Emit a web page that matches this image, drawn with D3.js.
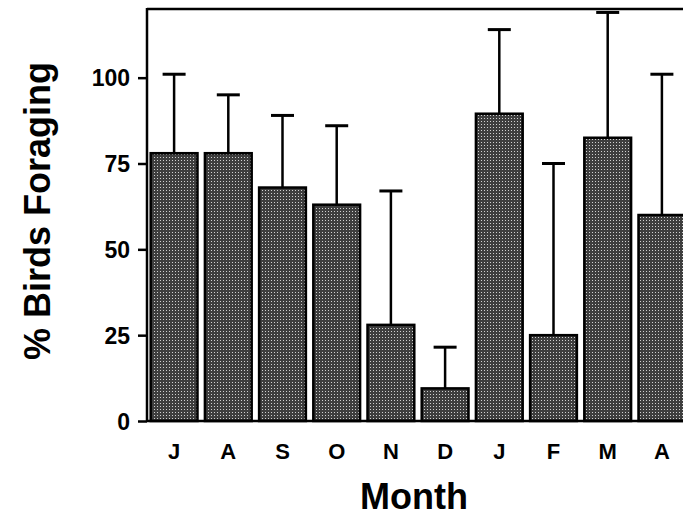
<!DOCTYPE html>
<html>
<head>
<meta charset="utf-8">
<script src="https://cdn.jsdelivr.net/npm/d3@7"></script>
<style>
  html, body { margin: 0; padding: 0; background: #fff; }
  svg { display: block; }
  text { font-family: "Liberation Sans", Arial, Helvetica, sans-serif; font-weight: bold; fill: #000; }
</style>
</head>
<body>
<svg id="chart" width="683" height="516"></svg>
<script>
// ---- data ----
const months = ["J", "A", "S", "O", "N", "D", "J", "F", "M", "A"];
const monthKeys = ["Jul", "Aug", "Sep", "Oct", "Nov", "Dec", "Jan", "Feb", "Mar", "Apr"];
const meanValues = [78, 78, 68, 63, 28, 9.5, 89.5, 25, 82.5, 60];
const upperValues = [101, 95, 89, 86, 67, 21.5, 114, 75, 119, 101];
const yTicks = [0, 25, 50, 75, 100];
const yTitle = "% Birds Foraging";
const xTitle = "Month";

(function () {
const svg = d3.select("#chart");
const W = 683, H = 516;
const mLeft = 147, mTop = 9, mBottom = 421;

// pattern to mimic halftone stipple
const defs = svg.append("defs");
const pat = defs.append("pattern").attr("id", "stipple")
  .attr("patternUnits", "userSpaceOnUse").attr("width", 3).attr("height", 3);
pat.append("rect").attr("width", 3).attr("height", 3).attr("fill", "#3e3e3e");
pat.append("rect").attr("x", 1).attr("y", 1).attr("width", 1).attr("height", 1).attr("fill", "#d0d0d0");

const x = d3.scaleBand()
  .domain(d3.range(months.length))
  .range([mLeft, mLeft + 542])
  .paddingInner(0.1)
  .paddingOuter(0.05);

const y = d3.scaleLinear().domain([0, 120]).range([mBottom, mTop]);

const data = months.map((m, i) => ({ i, m, v: meanValues[i], u: upperValues[i] }));

// bars
svg.append("g").selectAll("rect")
  .data(data).join("rect")
  .attr("x", d => x(d.i) + 1)
  .attr("y", d => y(d.v))
  .attr("width", x.bandwidth() - 2)
  .attr("height", d => y(0) - y(d.v))
  .attr("fill", "url(#stipple)")
  .attr("stroke", "#000")
  .attr("stroke-width", 2.5);

// error bars
const eb = svg.append("g").attr("stroke", "#000");
eb.selectAll("line.stem").data(data).join("line").attr("class", "stem")
  .attr("x1", d => x(d.i) + x.bandwidth() / 2)
  .attr("x2", d => x(d.i) + x.bandwidth() / 2)
  .attr("y1", d => y(d.v))
  .attr("y2", d => y(d.u))
  .attr("stroke-width", 2.5);
eb.selectAll("line.cap").data(data).join("line").attr("class", "cap")
  .attr("x1", d => x(d.i) + x.bandwidth() / 2 - 11.5)
  .attr("x2", d => x(d.i) + x.bandwidth() / 2 + 11.5)
  .attr("y1", d => y(d.u))
  .attr("y2", d => y(d.u))
  .attr("stroke-width", 3);

// frame: left and top
svg.append("line").attr("x1", mLeft).attr("x2", mLeft).attr("y1", mTop - 1).attr("y2", mBottom)
  .attr("stroke", "#000").attr("stroke-width", 2.5);
svg.append("line").attr("x1", mLeft).attr("x2", W).attr("y1", mTop).attr("y2", mTop)
  .attr("stroke", "#000").attr("stroke-width", 2.5);

// y axis
const yAxis = d3.axisLeft(y).tickValues(yTicks).tickSize(9).tickPadding(8).tickFormat(d3.format("d"));
const gy = svg.append("g").attr("transform", `translate(${mLeft},0)`).call(yAxis);
gy.select(".domain").remove();
gy.selectAll(".tick line").attr("stroke", "#000").attr("stroke-width", 2.5);
gy.selectAll(".tick text").attr("font-size", 23).attr("font-family", "Liberation Sans, Arial, sans-serif")
  .attr("font-weight", "bold").attr("fill", "#000").attr("dy", "0.35em");

// x axis
const xAxis = d3.axisBottom(x).tickFormat(i => months[i]).tickSize(0).tickPadding(22);
const gx = svg.append("g").attr("transform", `translate(0,${mBottom})`).call(xAxis);
gx.select(".domain").remove();
gx.selectAll(".tick text").attr("font-size", 22).attr("font-family", "Liberation Sans, Arial, sans-serif")
  .attr("font-weight", "bold").attr("fill", "#000");
svg.append("line").attr("x1", mLeft).attr("x2", W).attr("y1", mBottom).attr("y2", mBottom)
  .attr("stroke", "#000").attr("stroke-width", 2.5);

// titles
svg.append("text").attr("x", 414).attr("y", 509).attr("text-anchor", "middle")
  .attr("font-size", 36).text(xTitle);
svg.append("text").attr("transform", "translate(50,211) rotate(-90)").attr("text-anchor", "middle")
  .attr("font-size", 36).text(yTitle);
})();
</script>
</body>
</html>
